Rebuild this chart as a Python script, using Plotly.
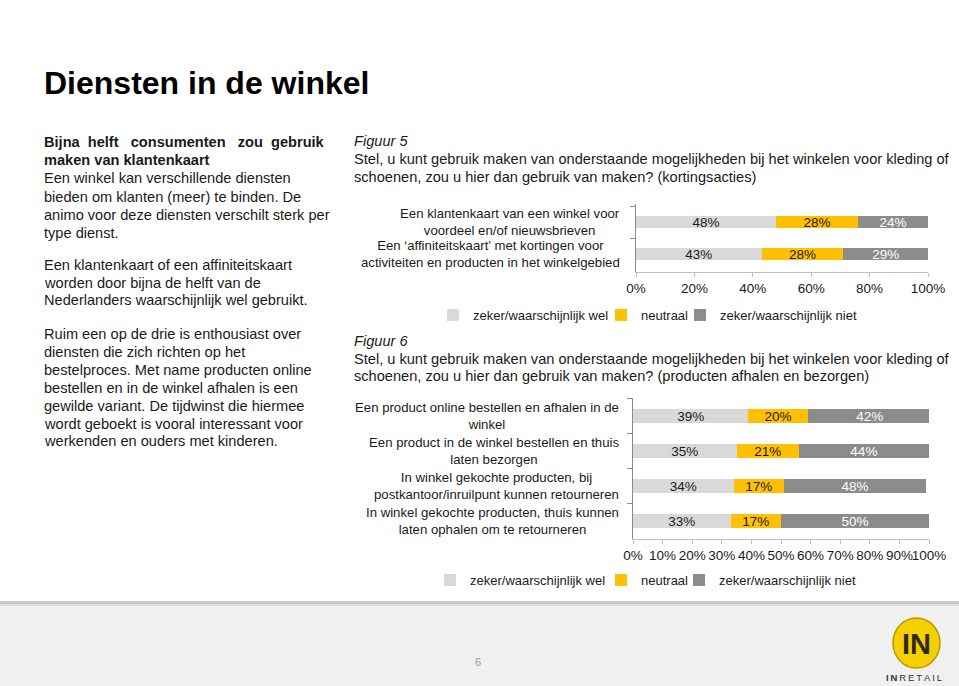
import plotly.graph_objects as go

W, H = 959, 686
FONT = "Liberation Sans, Arial, sans-serif"

# ---------------- data ----------------
series_names = ["zeker/waarschijnlijk wel", "neutraal", "zeker/waarschijnlijk niet"]
series_colors = ["#d9d9d9", "#ffc000", "#8c8c8c"]
label_colors = ["#1a1a1a", "#1a1a1a", "#ffffff"]

fig5_categories = [
    "Een klantenkaart van een winkel voor<br>voordeel en/of nieuwsbrieven",
    "Een ‘affiniteitskaart’ met kortingen voor<br>activiteiten en producten in het winkelgebied",
]
fig5_wel = [48, 43]
fig5_neutraal = [28, 28]
fig5_niet = [24, 29]

fig6_categories = [
    "Een product online bestellen en afhalen in de<br>winkel",
    "Een product in de winkel bestellen en thuis<br>laten bezorgen",
    "In winkel gekochte producten, bij<br>postkantoor/inruilpunt kunnen retourneren",
    "In winkel gekochte producten, thuis kunnen<br>laten ophalen om te retourneren",
]
fig6_wel = [39, 35, 34, 33]
fig6_neutraal = [20, 21, 17, 17]
fig6_niet = [42, 44, 48, 50]

fig5_ticks = [0, 20, 40, 60, 80, 100]
fig6_ticks = [0, 10, 20, 30, 40, 50, 60, 70, 80, 90, 100]

title_text = "Diensten in de winkel"
S3 = "\u00a0\u00a0\u00a0"
S2 = "\u00a0\u00a0"
para1 = [
    f"<b>Bijna{S2}helft{S3}consumenten{S3}zou{S2}gebruik</b>",
    "<b>maken van klantenkaart</b>",
    "Een winkel kan verschillende diensten",
    "bieden om klanten (meer) te binden. De",
    "animo voor deze diensten verschilt sterk per",
    "type dienst.",
]
para2 = [
    "Een klantenkaart of een affiniteitskaart",
    "worden door bijna de helft van de",
    "Nederlanders waarschijnlijk wel gebruikt.",
]
para3 = [
    "Ruim een op de drie is enthousiast over",
    "diensten die zich richten op het",
    "bestelproces. Met name producten online",
    "bestellen en in de winkel afhalen is een",
    "gewilde variant. De tijdwinst die hiermee",
    "wordt geboekt is vooral interessant voor",
    "werkenden en ouders met kinderen.",
]
cap5 = [
    "<i>Figuur 5</i>",
    "Stel, u kunt gebruik maken van onderstaande mogelijkheden bij het winkelen voor kleding of",
    "schoenen, zou u hier dan gebruik van maken? (kortingsacties)",
]
cap6 = [
    "<i>Figuur 6</i>",
    "Stel, u kunt gebruik maken van onderstaande mogelijkheden bij het winkelen voor kleding of",
    "schoenen, zou u hier dan gebruik van maken? (producten afhalen en bezorgen)",
]
page_number = "6"

# text line positions (px from top)
para1_y = [142, 160, 178, 197, 215, 233]
para2_y = [265, 283, 300]
para3_y = [334, 352, 370, 388, 406, 424, 441]
cap5_y = [141, 159, 177]
cap6_y = [341, 359, 376]


def px(x):
    return x / W


def py(y):
    return 1 - y / H


fig = go.Figure()

fig5_vals = [fig5_wel, fig5_neutraal, fig5_niet]
fig6_vals = [fig6_wel, fig6_neutraal, fig6_niet]

for i, name in enumerate(series_names):
    fig.add_trace(go.Bar(
        orientation="h", y=fig5_categories, x=fig5_vals[i], name=name,
        marker=dict(color=series_colors[i], line=dict(width=0)),
        text=[f"{v}%" for v in fig5_vals[i]], textposition="inside",
        insidetextanchor="middle", constraintext="none",
        textfont=dict(family=FONT, size=13.5, color=label_colors[i]),
        xaxis="x", yaxis="y", legend=f"legend{i + 1}" if i else "legend",
        hoverinfo="skip",
    ))
for i, name in enumerate(series_names):
    fig.add_trace(go.Bar(
        orientation="h", y=fig6_categories, x=fig6_vals[i], name=name,
        marker=dict(color=series_colors[i], line=dict(width=0)),
        text=[f"{v}%" for v in fig6_vals[i]], textposition="inside",
        insidetextanchor="middle", constraintext="none",
        textfont=dict(family=FONT, size=13.5, color=label_colors[i]),
        xaxis="x2", yaxis="y2", legend=f"legend{i + 4}", hoverinfo="skip",
    ))

xcommon = dict(range=[0, 100], showgrid=False, zeroline=False, showline=True,
               linecolor="#c0c0c0", linewidth=1, ticks="outside", ticklen=4,
               tickcolor="#c0c0c0", tickmode="array", tickangle=0, fixedrange=True,
               automargin=False,
               tickfont=dict(family=FONT, size=13.5, color="#1a1a1a"))
ycommon = dict(type="category", autorange="reversed", showticklabels=False,
               showgrid=False, zeroline=False, showline=True, linecolor="#8a8a8a",
               linewidth=1, ticks="outside", tickson="boundaries", ticklen=5,
               tickcolor="#8a8a8a", fixedrange=True, automargin=False)

legcommon = dict(orientation="h", xanchor="left", yanchor="middle",
                 font=dict(family=FONT, size=13, color="#1a1a1a"),
                 bgcolor="rgba(0,0,0,0)", itemwidth=30, itemclick=False,
                 itemdoubleclick=False, traceorder="normal")

# legend symbol centre positions (px) for each entry
legend5_sym_x = [453, 621, 700]
legend6_sym_x = [450, 621, 699]
legend5_y = 315
legend6_y = 580

annotations = []


def ann(text, x, y, size, xanchor="left", yanchor="middle", align="left",
        color="#1a1a1a", xref="paper", yref="paper", **kw):
    annotations.append(dict(text=text, x=x, y=y, xref=xref, yref=yref,
                            xanchor=xanchor, yanchor=yanchor, align=align,
                            showarrow=False,
                            font=dict(family=FONT, size=size, color=color), **kw))


ann(f"<b>{title_text}</b>", px(42), py(83), 32, color="#000000")
for lines, ys in ((para1, para1_y), (para2, para2_y), (para3, para3_y)):
    for t, yy in zip(lines, ys):
        ann(t, px(42), py(yy), 14.6)
for lines, ys in ((cap5, cap5_y), (cap6, cap6_y)):
    for t, yy in zip(lines, ys):
        ann(t, px(352), py(yy), 14.6)

for i, c in enumerate(fig5_categories):
    ann(c, px(622), i, 13.2, xanchor="right", align="center", yref="y")
for i, c in enumerate(fig6_categories):
    ann(c, px(621), i, 13.2, xanchor="right", align="center", yref="y2")

ann(page_number, px(478), py(662), 11, xanchor="center", color="#999999")
ann("<b>IN</b>", px(916.5), py(644), 29, xanchor="center", color="#2e2a08")
ann("<b>I\u2009N</b>\u2009R\u2009E\u2009T\u2009A\u2009I\u2009L", px(914), py(677), 9.5,
    xanchor="center", color="#333333")

shapes = [
    dict(type="rect", xref="paper", yref="paper", x0=0, x1=1, y0=0, y1=py(604),
         fillcolor="#f0f0f0", line=dict(width=0), layer="below"),
    dict(type="rect", xref="paper", yref="paper", x0=0, x1=1, y0=py(604), y1=py(601),
         fillcolor="#c8c8c8", line=dict(width=0), layer="below"),
    dict(type="rect", xref="paper", yref="paper", x0=0, x1=1, y0=py(606), y1=py(604),
         fillcolor="#dcdcdc", line=dict(width=0), layer="below"),
    dict(type="circle", xref="paper", yref="paper", x0=px(893), x1=px(940),
         y0=py(668), y1=py(618), fillcolor="#f5cf00",
         line=dict(color="#b89a00", width=1.5), layer="above"),
]

legends = {}
for i, sx in enumerate(legend5_sym_x):
    key = "legend" if i == 0 else f"legend{i + 1}"
    legends[key] = dict(x=px(sx - 20), y=py(legend5_y), **legcommon)
for i, sx in enumerate(legend6_sym_x):
    legends[f"legend{i + 4}"] = dict(x=px(sx - 20), y=py(legend6_y), **legcommon)

fig.update_layout(
    width=W, height=H, autosize=False,
    margin=dict(l=0, r=0, t=0, b=0, pad=0, autoexpand=False),
    paper_bgcolor="#ffffff", plot_bgcolor="rgba(0,0,0,0)",
    barmode="stack", bargap=0.6, showlegend=True,
    font=dict(family=FONT, size=13, color="#1a1a1a"),
    xaxis=dict(domain=[px(636), px(928)], anchor="y", tickvals=fig5_ticks,
               ticktext=[f"{t}%" for t in fig5_ticks], **xcommon),
    yaxis=dict(domain=[py(272), py(204)], anchor="x", **ycommon),
    xaxis2=dict(domain=[px(633), px(929)], anchor="y2", tickvals=fig6_ticks,
                ticktext=[f"{t}%" for t in fig6_ticks], **xcommon),
    yaxis2=dict(domain=[py(539), py(398)], anchor="x2", **ycommon),
    annotations=annotations, shapes=shapes,
    **legends,
)

fig.write_html("out.html", config={"displayModeBar": False})
